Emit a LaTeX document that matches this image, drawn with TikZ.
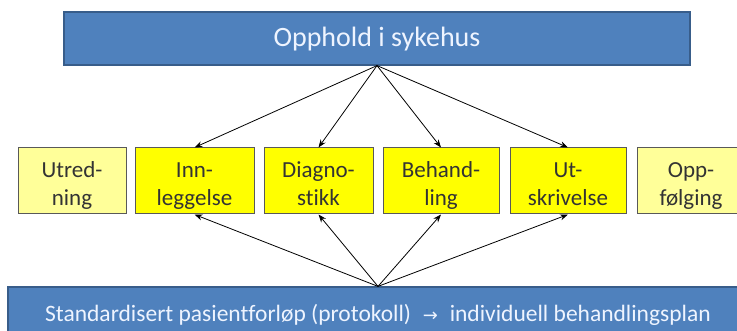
\documentclass[tikz,border=0pt]{standalone}
\usepackage{fontspec}
\setmainfont[Ligatures=NoCommon]{Carlito}
\newfontfamily\arrowfont{DejaVu Sans}
\usetikzlibrary{positioning}
\usetikzlibrary{arrows.meta}
\definecolor{barblue}{HTML}{4F81BD}
\definecolor{barline}{HTML}{385D8A}
\definecolor{bartext}{HTML}{EEF4FF}
\definecolor{stageyellow}{HTML}{FFFF00}
\definecolor{stagepale}{HTML}{FFFF99}
\tikzset{bar/.style={draw=barline, line width=1.2pt, fill=barblue, text=bartext, inner sep=0pt, text depth=0pt}}
\tikzset{stage/.style={draw=black!65, line width=1pt, fill=stageyellow, text=black!80,
    align=center, minimum height=66pt, inner sep=0pt, text height=50pt, text depth=0pt,
    font=\fontsize{23}{28}\selectfont}}
\tikzset{outer stage/.style={stage, fill=stagepale}}
\tikzset{link/.style={-{Stealth[length=8pt, width=6pt]}, line width=0.8pt}}

\begin{document}
\begin{tikzpicture}[x=1pt, y=-1pt]
    \clip (0, 0) rectangle (737, 331);

    \node[bar, minimum width=626pt, minimum height=53pt, text height=17pt,
        font=\fontsize{28}{32}\selectfont]
        (STAY) at (377, 38.5) {Opphold i sykehus};

    \node[outer stage, minimum width=108pt] (UTR) at (72, 181) {Utred-\\ning};
    \node[stage, minimum width=119pt] (INN) at (194.5, 181) {Inn-\\leggelse};
    \node[stage, minimum width=109pt] (DIA) at (318.5, 181) {Diagno-\\stikk};
    \node[stage, minimum width=116pt] (BEH) at (441, 181) {Behand-\\ling};
    \node[stage, minimum width=116pt] (UTS) at (568, 181) {Ut-\\skrivelse};
    \node[outer stage, minimum width=108pt] (OPP) at (691, 181) {Opp-\\følging};

    \node[bar, minimum width=740pt, minimum height=58pt, text height=12pt,
        font=\fontsize{23.5}{28}\selectfont]
        (PLAN) at (378, 316)
        {Standardisert pasientforløp (protokoll)\enspace{\arrowfont\fontsize{18}{20}\selectfont →}\enspace individuell behandlingsplan};

    % from the stay down to the stages
    \draw[link] (STAY.south) -- (INN.north);
    \draw[link] (STAY.south) -- (DIA.north);
    \draw[link] (STAY.south) -- (BEH.north);
    \draw[link] (STAY.south) -- (UTS.north);

    % from the plan up to the stages
    \draw[link] (PLAN.north) -- (INN.south);
    \draw[link] (PLAN.north) -- (DIA.south);
    \draw[link] (PLAN.north) -- (BEH.south);
    \draw[link] (PLAN.north) -- (UTS.south);
\end{tikzpicture}
\end{document}
